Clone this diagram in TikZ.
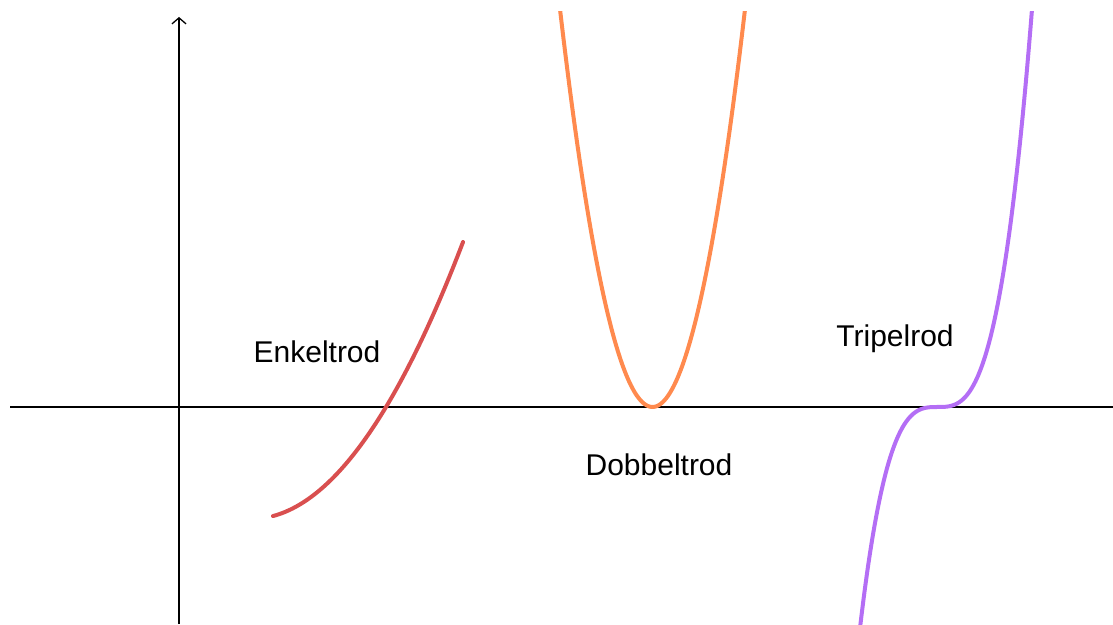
\documentclass[tikz,border=0pt]{standalone}
\usepackage{fontspec}
\setmainfont{Liberation Sans}
\usetikzlibrary{arrows.meta}
\definecolor{cred}{RGB}{217,79,79}
\definecolor{corange}{RGB}{255,138,78}
\definecolor{cpurple}{RGB}{180,110,245}
\tikzset{
  axis/.style={line width=1.3pt, black},
  curve/.style={line width=4pt, line cap=round},
  lbl/.style={font=\fontsize{30}{34}\selectfont, inner sep=0pt}
}
\begin{document}
\begin{tikzpicture}[x=1pt,y=1pt]
\useasboundingbox (0,0) rectangle (1113,624);
% axes (y measured upward: Y = 624 - ypx)
\coordinate (xl) at (10,217);
\coordinate (xr) at (1113,217);
\coordinate (yb) at (179,0);
\coordinate (yt) at (179,607);
\draw[axis] (xl) -- (xr);
\draw[axis,-{Straight Barb[length=6pt,width=14pt,line width=1.3pt]}] (yb) -- (yt);
% clip to top
\begin{scope}
\clip (0,0) rectangle (1113,612);
% red: single root
\draw[curve,cred] plot[domain=273:463,samples=60,smooth] (\x,{217+0.0062*(\x-386)*(\x-386)+1.665*(\x-386)});
% orange: double root
\draw[curve,corange,line cap=butt] plot[domain=558:747,samples=80,smooth] (\x,{217+0.0465*(\x-652.5)*(\x-652.5)});
% purple: triple root
\draw[curve,cpurple,line cap=butt] plot[domain=858:1034,samples=100,smooth] (\x,{217+0.00047*(\x-937.6)*(\x-937.6)*(\x-937.6)});
\end{scope}
% labels
\node[lbl] (enk) at (317,272) {Enkeltrod};
\node[lbl] (dob) at (659,159) {Dobbeltrod};
\node[lbl] (tri) at (895,285) {Tripelrod};
\end{tikzpicture}
\end{document}
